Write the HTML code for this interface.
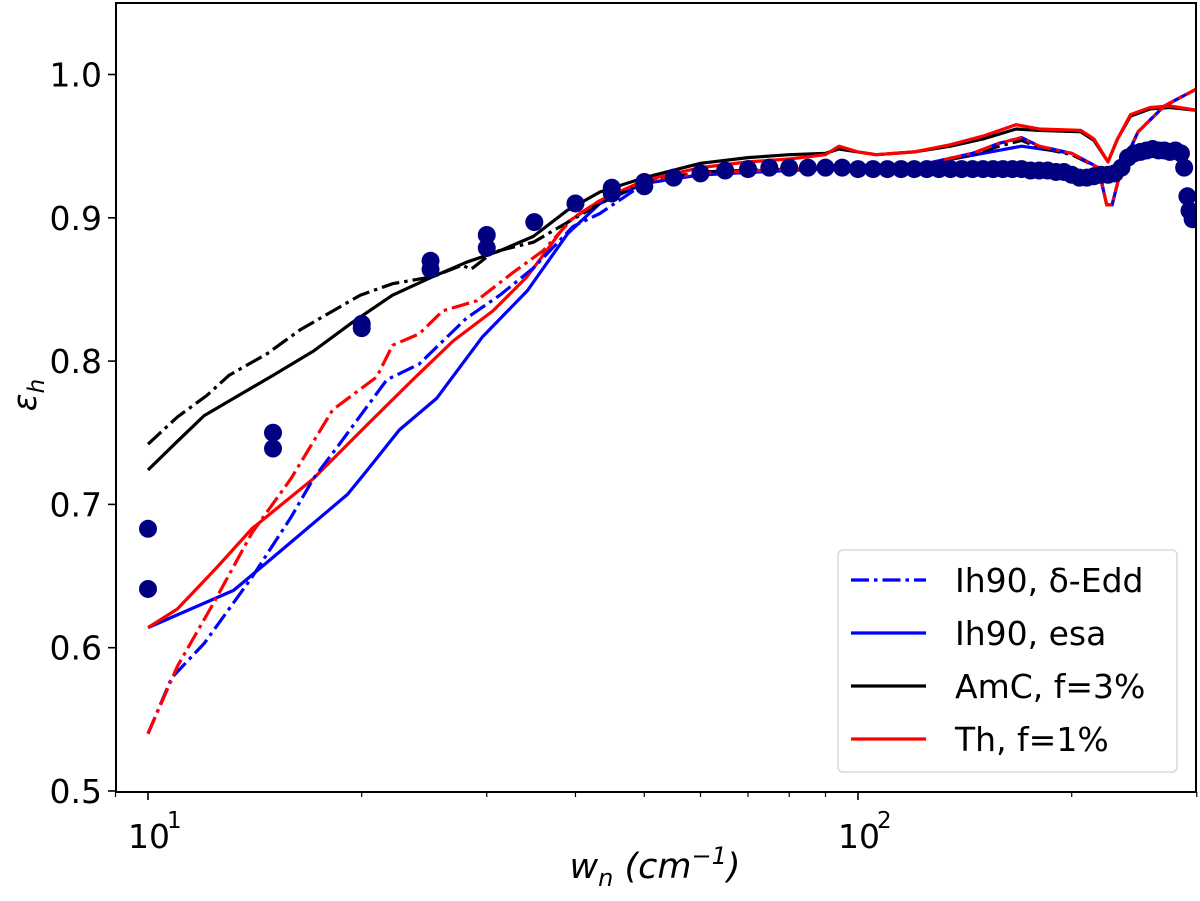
<!DOCTYPE html>
<html><head><meta charset="utf-8"><style>
html,body{margin:0;padding:0;background:#fff;}
svg text{font-family:"DejaVu Sans","Liberation Sans",sans-serif;}
</style></head><body>
<svg id="chart" width="1200" height="896" viewBox="0 0 1200 896" xmlns="http://www.w3.org/2000/svg">
<g id="plot"></g>
<g id="axes"></g>
<g id="legend"></g>
</svg>
<script>
// ---- data ----
const blkSolidW = [10,11,12,13.2,15,17.1,19.4,22.1,25.2,28.1,31.3,34.9,38.9,43.3,50,60,70,80,90,94,100,106,120,135,150,167,180,206,215,225,232,242,258,275,300];
const blkSolidV = [0.724,0.744,0.762,0.774,0.790,0.807,0.827,0.846,0.859,0.869,0.877,0.887,0.905,0.918,0.928,0.938,0.942,0.944,0.945,0.948,0.946,0.944,0.946,0.950,0.955,0.962,0.961,0.960,0.954,0.939,0.955,0.971,0.976,0.977,0.975];
const blkDashW = [10,11,12.1,13.0,14.7,16.4,19.9,22.1,25.2,27.7,28.5,30.6,34.9,40.0,43.3,50,60,80,100,120,145,158,170,180,200,218,224,228,235,248,270,300];
const blkDashV = [0.742,0.761,0.776,0.790,0.805,0.822,0.846,0.854,0.859,0.867,0.864,0.876,0.883,0.900,0.910,0.925,0.932,0.934,0.935,0.936,0.944,0.950,0.954,0.949,0.944,0.935,0.909,0.909,0.935,0.960,0.978,0.990];
const redDashW = [10,11,12.4,14.0,15.9,18.2,21.0,22.1,24.1,26.0,29.0,32.7,36.0,39.7,43.3,50,60,80,100,120,145,158,170,180,200,218,224,228,235,248,270,300];
const redDashV = [0.540,0.587,0.632,0.680,0.718,0.766,0.789,0.811,0.819,0.835,0.842,0.862,0.877,0.900,0.912,0.926,0.931,0.934,0.935,0.936,0.945,0.952,0.956,0.950,0.945,0.935,0.909,0.909,0.935,0.960,0.978,0.990];
const bluDashW = [10,10.8,12.0,14.0,15.9,17.1,18.6,21.7,24.1,28.1,31.3,34.9,39.7,43.3,50,60,80,100,120,145,158,170,180,200,218,224,228,235,248,270,300];
const bluDashV = [0.540,0.579,0.603,0.649,0.691,0.718,0.742,0.787,0.798,0.830,0.846,0.865,0.894,0.903,0.924,0.930,0.933,0.935,0.936,0.945,0.952,0.956,0.950,0.945,0.935,0.909,0.909,0.935,0.960,0.978,0.990];
const redSolidW = [10,11,12.5,14.0,17.1,20.3,23.6,26.9,30.6,34.2,39.0,43.3,50,60,70,80,90,94,100,106,120,135,150,167,180,206,215,225,232,242,258,275,300];
const redSolidV = [0.614,0.627,0.656,0.683,0.718,0.755,0.787,0.814,0.835,0.859,0.897,0.912,0.926,0.935,0.939,0.941,0.944,0.950,0.946,0.944,0.946,0.951,0.957,0.965,0.962,0.961,0.955,0.939,0.955,0.972,0.977,0.978,0.975];
const bluSolidW = [10,13.2,15.0,19.1,20.3,22.6,25.5,29.6,34.2,39.0,43.3,50,60,80,100,120,150,170,200];
const bluSolidV = [0.614,0.640,0.663,0.707,0.723,0.752,0.774,0.817,0.849,0.889,0.910,0.924,0.930,0.933,0.935,0.936,0.945,0.950,0.945];
const dotW = [10,10,15,15,20,20,25,25,30,30,35,40,45,45,50,50,55,60,65,70,75,80,85,90,95,100,105,110,115,120,125,130,135,140,145,150,155,160,165,170,175,180,185,190,195,200,205,210,215,220,225,230,235,240,245,250,255,260,265,270,275,280,285,288,291,293,296];
const dotV = [0.683,0.641,0.750,0.739,0.826,0.823,0.870,0.864,0.888,0.879,0.897,0.910,0.921,0.917,0.925,0.922,0.928,0.931,0.933,0.934,0.935,0.935,0.935,0.935,0.935,0.934,0.934,0.934,0.934,0.934,0.934,0.934,0.934,0.934,0.934,0.934,0.934,0.934,0.934,0.934,0.933,0.933,0.933,0.932,0.932,0.930,0.928,0.928,0.929,0.930,0.930,0.931,0.935,0.942,0.945,0.946,0.947,0.948,0.947,0.947,0.946,0.947,0.945,0.935,0.915,0.905,0.899];
const yTicks = [0.5,0.6,0.7,0.8,0.9,1.0];
const yTickLabels = ["0.5","0.6","0.7","0.8","0.9","1.0"];
const xMajor = [10,100];
const xMajorExp = ["1","2"];
const xMinor = [9,20,30,40,50,60,70,80,90,200,300];

// ---- axes ----
const L=116,R=1196,T=3,B=792;
const sx = w => 148 + 710*(Math.log10(w)-1);
const sy = v => 74.5 + (1.0 - v)*1433;
const NS='http://www.w3.org/2000/svg';
function mk(tag, attrs, parent){const e=document.createElementNS(NS,tag);for(const k in attrs)e.setAttribute(k,attrs[k]);parent.appendChild(e);return e;}
const plot=document.getElementById('plot'), axes=document.getElementById('axes'), leg=document.getElementById('legend');
const clip=mk('clipPath',{id:'clp'},plot); mk('rect',{x:L,y:T,width:R-L,height:B-T},clip);
const g=mk('g',{'clip-path':'url(#clp)'},plot);

function line(ws,vs,color,dash,name){
  const d=ws.map((w,i)=>(i?'L':'M')+sx(w).toFixed(1)+' '+sy(vs[i]).toFixed(1)).join(' ');
  const p=mk('path',{d:d,fill:'none',stroke:color,'stroke-width':3.2,'stroke-linejoin':'round'},g);
  if(dash)p.setAttribute('stroke-dasharray','18 5 3.5 5');
  
  
}
line(bluSolidW,bluSolidV,'#0000ff',false,'series-ih90-esa');
line(blkSolidW,blkSolidV,'#000000',false,'series-amc-solid');
line(redSolidW,redSolidV,'#ff0000',false,'series-th-solid');
line(blkDashW,blkDashV,'#000000',true,'series-amc-dashdot');
line(bluDashW,bluDashV,'#0000ff',true,'series-ih90-dedd');
line(redDashW,redDashV,'#ff0000',true,'series-th-dashdot');
dotW.forEach((w,i)=>{
  const c=mk('circle',{cx:sx(w),cy:sy(dotV[i]),r:9,fill:'#000080'},g);
  
  
});

// frame
const fr=mk('rect',{x:L,y:T,width:R-L,height:B-T,fill:'none',stroke:'#000','stroke-width':2},axes);


yTicks.forEach((v,i)=>{
  const y=sy(v);
  mk('line',{x1:L-8,x2:L,y1:y,y2:y,stroke:'#000','stroke-width':1.6},axes);
  const t=mk('text',{x:L-14,y:y+12,'text-anchor':'end','font-size':33},axes);
  t.textContent=yTickLabels[i];
  
  
});
xMajor.forEach((w,i)=>{
  const x=sx(w);
  mk('line',{x1:x,x2:x,y1:B,y2:B+8,stroke:'#000','stroke-width':1.6},axes);
  const t=mk('text',{x:x-20,y:B+56,'font-size':33},axes);
  t.textContent='10';
  
  
  const e=mk('text',{x:x+19,y:B+36,'font-size':23},axes);
  e.textContent=xMajorExp[i];
  
  
});
xMinor.forEach(w=>{
  const x=sx(w);
  if(x<L-1||x>R+1)return;
  mk('line',{x1:x,x2:x,y1:B,y2:B+5,stroke:'#000','stroke-width':1.2},axes);
});
// axis titles
const xt=mk('text',{x:655,y:878,'text-anchor':'middle','font-size':35,'font-style':'italic'},axes);
xt.innerHTML='w<tspan font-size="24" dy="8">n</tspan><tspan dy="-8"> (cm</tspan><tspan font-size="24" dy="-14">−1</tspan><tspan dy="14">)</tspan>';


const yt=mk('text',{x:0,y:0,'text-anchor':'middle','font-size':33,'font-style':'italic',transform:'translate(36,395) rotate(-90)'},axes);
yt.innerHTML='ε<tspan font-size="23" dy="8">h</tspan>';



// legend
const lb=mk('rect',{x:838,y:550,width:339,height:222,rx:5,fill:'#fff','fill-opacity':0.85,stroke:'#d8d8d8','stroke-width':1.5},leg);


const legLabels=['Ih90, δ-Edd','Ih90, esa','AmC, f=3%','Th, f=1%'];
const legColors=['#0000ff','#0000ff','#000000','#ff0000'];
const legDash=[true,false,false,false];
legLabels.forEach((s,i)=>{
  const y=580+i*53;
  const ln=mk('line',{x1:851,x2:926,y1:y,y2:y,stroke:legColors[i],'stroke-width':3.2},leg);
  if(legDash[i])ln.setAttribute('stroke-dasharray','18 5 3.5 5');
  const t=mk('text',{x:955,y:y+12,'font-size':33},leg);
  t.textContent=s;
  
  
});
</script>
</body></html>
